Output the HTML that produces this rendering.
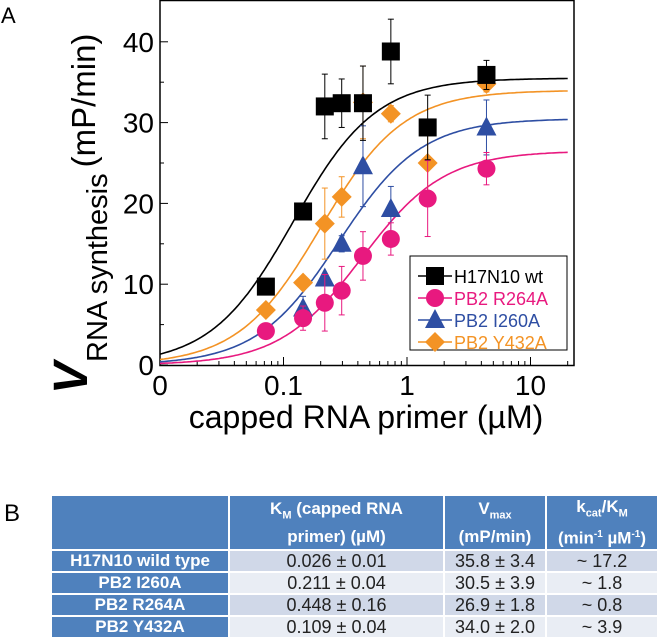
<!DOCTYPE html>
<html><head><meta charset="utf-8">
<style>
body{margin:0;background:#fff;width:671px;height:637px;overflow:hidden;font-family:"Liberation Sans",sans-serif;}
#tbl{position:absolute;left:50px;top:494px;border-collapse:collapse;font-family:"Liberation Sans",sans-serif;table-layout:fixed;}
#tbl td{border:2px solid #fff;text-align:center;padding:0;font-size:18px;color:#222;overflow:hidden;white-space:nowrap;}
#tbl tr.h td{background:#4f81bd;color:#fff;font-weight:bold;height:44px;font-size:17px;line-height:21px;}
#tbl td.n{background:#4f81bd;color:#fff;font-weight:bold;font-size:17px;}
#tbl tr.r td{height:20px;line-height:20px;}
#tbl tr.a td.c{background:#d0d8e8;}
#tbl tr.b td.c{background:#e9edf4;}
</style></head><body>
<svg id="chart" width="671" height="470" style="position:absolute;left:0;top:0">
<text x="1" y="23" font-size="22">A</text>
<g id="plot"></g>
</svg>
<div style="position:absolute;left:4px;top:500px;font-size:24px">B</div>
<table id="tbl">
<tr class="h"><td style="width:176px"></td><td style="width:213px">K<sub style="font-size:11px">M</sub> (capped RNA<br>primer) (µM)</td><td style="width:100px">V<sub style="font-size:11px">max</sub><br>(mP/min)</td><td style="width:110px">k<sub style="font-size:11px">cat</sub>/K<sub style="font-size:11px">M</sub><br>(min<sup style="font-size:10px">-1</sup> µM<sup style="font-size:10px">-1</sup>)</td></tr>
<tr class="r a"><td class="n">H17N10 wild type</td><td class="c">0.026 ± 0.01</td><td class="c">35.8 ± 3.4</td><td class="c">~ 17.2</td></tr>
<tr class="r b"><td class="n">PB2 I260A</td><td class="c">0.211 ± 0.04</td><td class="c">30.5 ± 3.9</td><td class="c">~ 1.8</td></tr>
<tr class="r a"><td class="n">PB2 R264A</td><td class="c">0.448 ± 0.16</td><td class="c">26.9 ± 1.8</td><td class="c">~ 0.8</td></tr>
<tr class="r b"><td class="n">PB2 Y432A</td><td class="c">0.109 ± 0.04</td><td class="c">34.0 ± 2.0</td><td class="c">~ 3.9</td></tr>
</table>
<script>
const concentrations=[0.072,0.144,0.216,0.296,0.44,0.74,1.47,4.4];
const seriesNames=["H17N10 wt","PB2 R264A","PB2 I260A","PB2 Y432A"];
const wtValues=[9.7,19,32,32.4,32.4,38.8,29.4,35.9];
const wtErrors=[1,0,4,3,4.6,4,4,1.8];
const r264aValues=[4.2,5.8,7.7,9.2,13.5,15.6,20.6,24.3];
const r264aErrors=[0.5,1.5,3.5,3,3,2,4.7,2];
const i260aValues=[null,7.0,10.7,15,24.6,19.3,null,29.4];
const i260aErrors=[0,1.5,0.5,1,5,2.8,0,3.4];
const y432aValues=[6.8,10.2,17.5,20.8,32.5,31.1,25,34.8];
const y432aErrors=[0.7,0.3,4.4,2.5,4.5,1,4.6,1];
const fitVmax=[35.5,26.5,30.5,34];
const fitHalf=[0.12,0.43,0.28,0.2];
const fitHill=[1.3,1.3,1.3,1.3];
const yTicks=[0,10,20,30,40];
const xTickLabels=["0","0.1","1","10"];
const xTickValues=[0.01,0.1,1,10];
const colors=["#000","#e8197f","#2e4ea3","#f39325"];
const shapes=["square","circle","triangle","diamond"];
const allVals=[wtValues,r264aValues,i260aValues,y432aValues];
const allErrs=[wtErrors,r264aErrors,i260aErrors,y432aErrors];

const L=160,R=574,T=0,B=365;
const xs=v=>L+(Math.log10(v)+2)*123.5;
const ys=v=>B-v*8.08;
const NS="http://www.w3.org/2000/svg";
const g=document.getElementById('plot');
function mk(t,a,p){const e=document.createElementNS(NS,t);for(const k in a)e.setAttribute(k,a[k]);(p||g).appendChild(e);return e;}
let box=mk('rect',{x:L,y:T+0.5,width:R-L,height:B-T,fill:'none',stroke:'#000','stroke-width':1.5});


yTicks.forEach(v=>{
  mk('line',{x1:L,x2:L+8,y1:ys(v),y2:ys(v),stroke:'#000'});
  let t=mk('text',{x:L-6,y:ys(v)+10,'text-anchor':'end','font-size':28});
  t.textContent=v;
  
  
  if(v<40){mk('line',{x1:L,x2:L+4,y1:ys(v+5),y2:ys(v+5),stroke:'#000'});}
});
for(let d=-2;d<=1;d++){for(let m=1;m<=9;m++){const v=m*Math.pow(10,d);const x=xs(v);if(x>R)break;
  mk('line',{x1:x,x2:x,y1:B,y2:B-(m==1?8:4),stroke:'#000'});}}
xTickValues.forEach((v,i)=>{
  let t=mk('text',{x:xs(v),y:395,'text-anchor':'middle','font-size':28});
  t.textContent=xTickLabels[i];
  
  
});
let xl=mk('text',{x:366,y:428,'text-anchor':'middle','font-size':32});
xl.textContent='capped RNA primer (µM)';


let yl=mk('text',{transform:'translate(87,394) rotate(-90)','font-size':29});
yl.innerHTML='<tspan font-size="48" font-weight="bold" font-style="italic">V</tspan><tspan dy="20">RNA synthesis</tspan><tspan dy="-12" dx="6" font-size="33">(mP/min)</tspan>';


for(let s=0;s<4;s++){
  let d='';for(let i=0;i<=200;i++){const lx=-2+i*(Math.log10(20)+2)/200;const x=Math.pow(10,lx);
    const v=fitVmax[s]*Math.pow(x,fitHill[s])/(Math.pow(fitHalf[s],fitHill[s])+Math.pow(x,fitHill[s]));
    d+=(i?'L':'M')+xs(x).toFixed(1)+','+ys(v).toFixed(1);}
  let p=mk('path',{d:d,fill:'none',stroke:colors[s],'stroke-width':1.6});
  
  
}
function marker(shape,cx,cy,c,parent){
  if(shape=='square')return mk('rect',{x:cx-9,y:cy-9,width:18,height:18,fill:c},parent);
  if(shape=='circle')return mk('circle',{cx:cx,cy:cy,r:9,fill:c},parent);
  if(shape=='triangle')return mk('polygon',{points:`${cx},${cy-11} ${cx+10},${cy+8} ${cx-10},${cy+8}`,fill:c},parent);
  return mk('polygon',{points:`${cx},${cy-10} ${cx+10},${cy} ${cx},${cy+10} ${cx-10},${cy}`,fill:c},parent);
}
const order=[3,2,1,0];
order.forEach(s=>{
  concentrations.forEach((c,i)=>{const v=allVals[s][i];if(v==null)return;const e=allErrs[s][i];const x=xs(c);
    if(e>0){mk('line',{x1:x,x2:x,y1:ys(v-e),y2:ys(v+e),stroke:colors[s],'stroke-width':1});
      mk('line',{x1:x-3,x2:x+3,y1:ys(v-e),y2:ys(v-e),stroke:colors[s]});
      mk('line',{x1:x-3,x2:x+3,y1:ys(v+e),y2:ys(v+e),stroke:colors[s]});}
    const m=marker(shapes[s],x,ys(v),colors[s]);
    
    
  });
});
const lg=mk('g',{});


mk('rect',{x:410,y:256,width:157,height:94,fill:'#fff',stroke:'#000','stroke-width':1},lg);
seriesNames.forEach((n,i)=>{const y=276+i*22;
  const en=mk('g',{},lg);
  
  
  mk('line',{x1:418,x2:452,y1:y,y2:y,stroke:colors[i],'stroke-width':1.5},en);
  marker(shapes[i],435,y,colors[i],en);
  const t=mk('text',{x:454,y:y+7,'font-size':18,fill:colors[i]},en);t.textContent=n;});
</script>
</body></html>
